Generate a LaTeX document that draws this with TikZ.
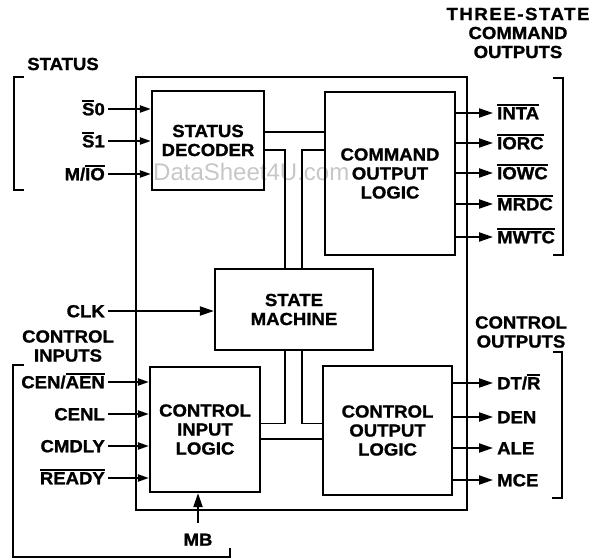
\documentclass[tikz,border=0pt]{standalone}
\usepackage{fontspec}
\setmainfont{Liberation Sans}[BoldFeatures={FakeBold=1.2,FakeStretch=1.06}]
\usetikzlibrary{arrows.meta,positioning}
\newcommand{\ovl}[1]{\leavevmode\vbox{\hrule height 1.6pt\kern 1.4pt\hbox{#1}}}
\newcommand{\pinfont}{\bfseries\fontsize{17.5}{19}\selectfont}
\tikzset{
  block/.style={draw, line width=2.2pt, align=center, font=\pinfont, inner sep=0pt},
  frame/.style={draw, line width=2.2pt, inner sep=0pt},
  wire/.style={line width=1.8pt},
  inarr/.style={line width=2pt, -{Triangle[length=11pt,width=7pt]}},
  outarr/.style={line width=2pt, -{Triangle[length=14pt,width=9pt]}},
  pin/.style={font=\pinfont, inner sep=0pt, text height=12.5pt, text depth=0pt},
  title/.style={font=\pinfont, align=center, inner sep=0pt},
  brace/.style={line width=1.4pt},
  wmark/.style={font=\fontsize{24}{24}\selectfont, text=black!22, inner sep=0pt}
}

\begin{document}
\begin{tikzpicture}[x=1pt,y=-1pt]
  \useasboundingbox (0,0) rectangle (593,559);

  % watermark
  \node[wmark, anchor=base west] (wm) at (153,180) {DataSheet4U.com};

  % chip outline and blocks
  \node[frame, minimum width=331pt, minimum height=433pt] (chip) at (301.5,293.5) {};
  \node[block, minimum width=112pt, minimum height=99pt] (sd) at (208,140.5) {STATUS\\DECODER};
  \node[block, minimum width=130pt, minimum height=163pt] (col) at (390,173.5) {COMMAND\\OUTPUT\\LOGIC};
  \node[block, minimum width=158pt, minimum height=81pt] (sm) at (294,309.5) {STATE\\MACHINE};
  \node[block, minimum width=110pt, minimum height=125pt] (cil) at (205,429.5) {CONTROL\\INPUT\\LOGIC};
  \node[block, minimum width=129pt, minimum height=129pt] (co) at (387.5,430.5) {CONTROL\\OUTPUT\\LOGIC};

  % internal wires
  \coordinate (w1) at (0,132);
  \coordinate (w2) at (0,150);
  \coordinate (w3) at (0,423.5);
  \coordinate (w4) at (0,439);
  \coordinate (v1) at (285,0);
  \coordinate (v2) at (302,0);
  \draw[wire] (sd.east |- w1) -- (col.west |- w1);
  \draw[wire] (sd.east |- w2) -| (v1 |- sm.north);
  \draw[wire] (col.west |- w2) -| (v2 |- sm.north);
  \draw[wire] (v1 |- sm.south) |- (cil.east |- w3);
  \draw[wire] (v2 |- sm.south) |- (co.west |- w3);
  \draw[wire] (cil.east |- w4) -- (co.west |- w4);

  % status inputs
  \node[title] (status-ttl) at (63,64) {STATUS};
  \draw[brace] (24,77) -- (14,77) -- (14,190) -- (24,190);
  \coordinate (s0) at (108,109);
  \node[pin, left=3pt of s0] (s0-lbl) {\ovl{S}0};
  \draw[inarr] (s0) -- (s0 -| sd.west);
  \coordinate (s1) at (108,141);
  \node[pin, left=3pt of s1] (s1-lbl) {\ovl{S}1};
  \draw[inarr] (s1) -- (s1 -| sd.west);
  \coordinate (mio) at (108,174);
  \node[pin, left=3pt of mio] (mio-lbl) {M/\ovl{IO}};
  \draw[inarr] (mio) -- (mio -| sd.west);

  % command outputs
  \node[title] (cmd-ttl) at (518,33) {{\addfontfeature{LetterSpace=9}THREE-STATE}\\COMMAND\\OUTPUTS};
  \draw[brace] (553,78) -- (563,78) -- (563,255) -- (553,255);
  \coordinate (inta) at (493,113);
  \node[pin, right=4pt of inta] (inta-lbl) {\ovl{INTA}};
  \draw[outarr] (inta -| col.east) -- (inta);
  \coordinate (iorc) at (493,143);
  \node[pin, right=4pt of iorc] (iorc-lbl) {\ovl{IORC}};
  \draw[outarr] (iorc -| col.east) -- (iorc);
  \coordinate (iowc) at (493,173);
  \node[pin, right=4pt of iowc] (iowc-lbl) {\ovl{IOWC}};
  \draw[outarr] (iowc -| col.east) -- (iowc);
  \coordinate (mrdc) at (493,204);
  \node[pin, right=4pt of mrdc] (mrdc-lbl) {\ovl{MRDC}};
  \draw[outarr] (mrdc -| col.east) -- (mrdc);
  \coordinate (mwtc) at (493,237);
  \node[pin, right=4pt of mwtc] (mwtc-lbl) {\ovl{MWTC}};
  \draw[outarr] (mwtc -| col.east) -- (mwtc);

  % clock
  \coordinate (clk) at (108,311);
  \node[pin, left=3pt of clk] (clk-lbl) {CLK};
  \draw[outarr] (clk) -- (clk -| sm.west);

  % control inputs
  \node[title] (cin-ttl) at (68,346) {CONTROL\\INPUTS};
  \draw[brace] (24,365) -- (13,365) -- (13,557) -- (230,557) -- (230,548);
  \coordinate (cen) at (108,382);
  \node[pin, left=3pt of cen] (cen-lbl) {CEN/\ovl{AEN}};
  \draw[inarr] (cen) -- (cen -| cil.west);
  \coordinate (cenl) at (108,414);
  \node[pin, left=3pt of cenl] (cenl-lbl) {CENL};
  \draw[inarr] (cenl) -- (cenl -| cil.west);
  \coordinate (cmdly) at (108,446);
  \node[pin, left=3pt of cmdly] (cmdly-lbl) {CMDLY};
  \draw[inarr] (cmdly) -- (cmdly -| cil.west);
  \coordinate (rdy) at (108,478);
  \node[pin, left=3pt of rdy] (rdy-lbl) {\ovl{READY}};
  \draw[inarr] (rdy) -- (rdy -| cil.west);
  \node[pin, anchor=north] (mb) at (198,533) {MB};
  \draw[outarr] ([yshift=10pt]mb.north) -- (mb.north |- cil.south);

  % control outputs
  \node[title] (cout-ttl) at (521,332) {CONTROL\\OUTPUTS};
  \draw[brace] (553,352) -- (562,352) -- (562,498) -- (552,498);
  \coordinate (dtr) at (493,383);
  \node[pin, right=4pt of dtr] (dtr-lbl) {DT/\ovl{R}};
  \draw[outarr] (dtr -| co.east) -- (dtr);
  \coordinate (den) at (493,417);
  \node[pin, right=4pt of den] (den-lbl) {DEN};
  \draw[outarr] (den -| co.east) -- (den);
  \coordinate (ale) at (493,448);
  \node[pin, right=4pt of ale] (ale-lbl) {ALE};
  \draw[outarr] (ale -| co.east) -- (ale);
  \coordinate (mce) at (493,480);
  \node[pin, right=4pt of mce] (mce-lbl) {MCE};
  \draw[outarr] (mce -| co.east) -- (mce);
\end{tikzpicture}
\end{document}
